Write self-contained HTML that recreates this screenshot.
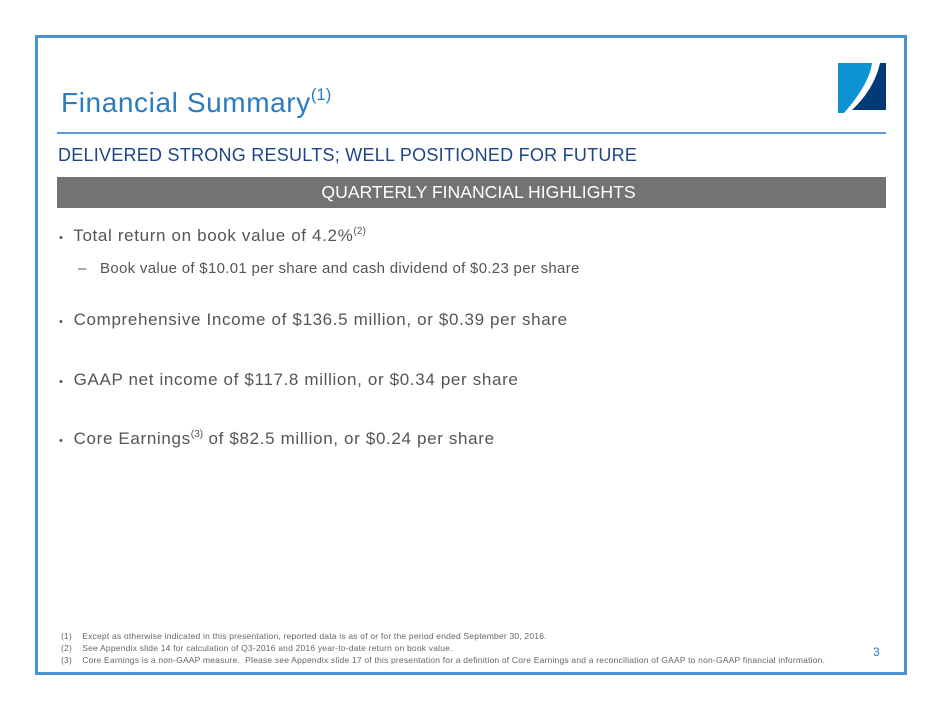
<!DOCTYPE html>
<html><head><style>
body{margin:0;width:940px;height:705px;background:#fff;position:relative;font-family:"Liberation Sans",sans-serif;overflow:hidden}
.frame{position:absolute;left:35px;top:35px;width:866px;height:634px;border:3px solid #4a92d2}
.t{position:absolute;white-space:nowrap}
sup{font-size:60%;vertical-align:0.7em;letter-spacing:0}
.b{font-size:11px;letter-spacing:0}
</style></head><body>
<div class="frame"></div>
<div class="t" style="left:61px;top:85px;font-size:28px;letter-spacing:0.6px;color:#2a7cc0">Financial Summary<sup>(1)</sup></div>
<svg style="position:absolute;left:836px;top:61px" width="52" height="54">
<path d="M2 2 L36 2 C34 18 22 36 8 52 L2 52Z" fill="#0b93d4"/>
<path d="M44 2 L50 2 L50 49 L16 49 C30 36 40 20 44 2Z" fill="#003b75"/>
</svg>
<div style="position:absolute;left:57px;top:132px;width:829px;height:2px;background:#5a9bd5"></div>
<div class="t" style="left:58px;top:145px;font-size:18px;letter-spacing:0.25px;color:#1d4584">DELIVERED STRONG RESULTS; WELL POSITIONED FOR FUTURE</div>
<div style="position:absolute;left:57px;top:177px;width:829px;height:31px;background:#737373;color:#fff;font-size:17.6px;text-align:center;line-height:31px;padding-left:14px;box-sizing:border-box">QUARTERLY FINANCIAL HIGHLIGHTS</div>
<div class="t" style="left:59px;top:226px;font-size:17px;letter-spacing:0.65px;color:#555"><span class="b">•</span>&nbsp; Total return on book value of 4.2%<sup>(2)</sup></div>
<div class="t" style="left:78px;top:260px;font-size:15px;letter-spacing:0.3px;color:#555">–&nbsp;&nbsp; Book value of $10.01 per share and cash dividend of $0.23 per share</div>
<div class="t" style="left:59px;top:310px;font-size:17px;letter-spacing:0.65px;color:#555"><span class="b">•</span>&nbsp; Comprehensive Income of $136.5 million, or $0.39 per share</div>
<div class="t" style="left:59px;top:370px;font-size:17px;letter-spacing:0.65px;color:#555"><span class="b">•</span>&nbsp; GAAP net income of $117.8 million, or $0.34 per share</div>
<div class="t" style="left:59px;top:429px;font-size:17px;letter-spacing:0.65px;color:#555"><span class="b">•</span>&nbsp; Core Earnings<sup>(3)</sup> of $82.5 million, or $0.24 per share</div>
<div class="t" style="left:61px;top:630px;font-size:8.5px;line-height:12px;letter-spacing:0.2px;color:#666">(1)&nbsp;&nbsp;&nbsp; Except as otherwise indicated in this presentation, reported data is as of or for the period ended September 30, 2016.<br>(2)&nbsp;&nbsp;&nbsp; See Appendix slide 14 for calculation of Q3-2016 and 2016 year-to-date return on book value.<br>(3)&nbsp;&nbsp;&nbsp; Core Earnings is a non-GAAP measure.&nbsp; Please see Appendix slide 17 of this presentation for a definition of Core Earnings and a reconciliation of GAAP to non-GAAP financial information.</div>
<div class="t" style="left:873px;top:645px;font-size:12px;color:#2a7cc0">3</div>
</body></html>
